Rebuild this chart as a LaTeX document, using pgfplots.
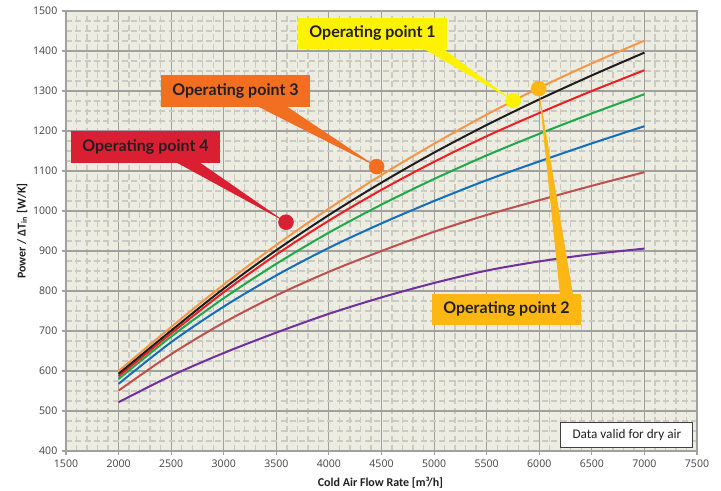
\documentclass[border=0pt]{standalone}
\usepackage{pgfplots}
\pgfplotsset{compat=1.18}
\usepackage{fontspec}
\setmainfont{Carlito}
\newfontfamily\tickfont{Open Sans}
\newfontfamily\callfont{Lato}
\usetikzlibrary{calc}
\definecolor{bgc}{RGB}{236,236,225}
\definecolor{majg}{RGB}{160,160,160}
\definecolor{ming}{RGB}{202,202,197}
\definecolor{cOrange}{RGB}{247,150,70}
\definecolor{cBlack}{RGB}{30,30,30}
\definecolor{cRed}{RGB}{240,30,35}
\definecolor{cGreen}{RGB}{30,170,75}
\definecolor{cBlue}{RGB}{20,110,190}
\definecolor{cBrown}{RGB}{192,80,77}
\definecolor{cPurple}{RGB}{112,48,160}
\definecolor{op1}{RGB}{255,242,0}
\definecolor{op2}{RGB}{253,183,21}
\definecolor{op3}{RGB}{242,110,33}
\definecolor{op4}{RGB}{218,31,50}
\definecolor{txt}{RGB}{35,31,32}
\definecolor{tickc}{RGB}{64,64,64}
\begin{document}
\begin{tikzpicture}
\begin{axis}[
  scale only axis,
  width=473.25pt, height=330pt,
  xmin=1500, xmax=7500, ymin=400, ymax=1500,
  xtick={1500,2000,...,7500},
  ytick={400,500,...,1500},
  minor x tick num=4,
  minor y tick num=3,
  grid=both,
  major grid style={draw=majg, line width=0.8pt},
  minor grid style={draw=ming, line width=1pt, dash pattern=on 4.5pt off 2.5pt},
  axis line style={draw=majg, line width=0.8pt},
  axis background/.style={fill=bgc},
  tick align=outside,
  xtick pos=bottom, ytick pos=left,
  major tick length=3pt,
  minor tick length=0pt,
  tick style={draw=majg, line width=0.8pt},
  /pgf/number format/assume math mode=true,
  /pgf/number format/set thousands separator={},
  ticklabel style={font=\tickfont\fontsize{7.9}{9}\selectfont, text=tickc},
  xlabel={Cold Air Flow Rate [m³/h]},
  ylabel={Power / ΔT\textsubscript{in} [W/K]},
  label style={font=\bfseries\fontsize{9}{11}\selectfont, text=txt},
  xlabel style={at={(axis description cs:0.4984,-0.0727)}, anchor=center},
  ylabel style={at={(axis description cs:-0.0697,0.5)}, anchor=center},
  clip=false,
]
\addplot[smooth, line width=1.5pt, color=cPurple] coordinates {(2000,522) (2500,588) (3000,645) (3500,696) (4000,743) (4500,784) (5000,820) (5500,851) (6000,874) (6500,892) (7000,906)};
\addplot[smooth, line width=1.5pt, color=cBrown] coordinates {(2000,551) (2500,642) (3000,721) (3500,789) (4000,848) (4500,900) (5000,948) (5500,990) (6000,1027) (6500,1063) (7000,1097)};
\addplot[smooth, line width=1.5pt, color=cBlue] coordinates {(2000,568) (2500,672) (3000,761) (3500,839) (4000,908) (4500,969) (5000,1025) (5500,1077) (6000,1124) (6500,1169) (7000,1212)};
\addplot[smooth, line width=1.5pt, color=cGreen] coordinates {(2000,580) (2500,686) (3000,782) (3500,868) (4000,946) (4500,1016) (5000,1080) (5500,1139) (6000,1193) (6500,1244) (7000,1292)};
\addplot[smooth, line width=1.5pt, color=cRed] coordinates {(2000,587) (2500,694) (3000,797) (3500,891) (4000,976) (4500,1053) (5000,1123) (5500,1187) (6000,1245) (6500,1300) (7000,1352)};
\addplot[smooth, line width=1.5pt, color=cOrange] coordinates {(2000,600) (2500,710) (3000,816) (3500,915) (4000,1006) (4500,1090) (5000,1168) (5500,1241) (6000,1308) (6500,1369) (7000,1426)};
\addplot[smooth, line width=1.5pt, color=cBlack] coordinates {(2000,593) (2500,701) (3000,806) (3500,902) (4000,990) (4500,1071) (5000,1146) (5500,1215) (6000,1279) (6500,1339) (7000,1396)};
% callout wedges
\addplot[fill=op1, draw=none, forget plot] coordinates {(4895,1406) (5085,1406) (5753,1276)} -- cycle;
\addplot[fill=op3, draw=none, forget plot] coordinates {(3326,1261) (3601,1261) (4454,1111)} -- cycle;
\addplot[fill=op4, draw=none, forget plot] coordinates {(2552,1121) (2774,1121) (3592,972)} -- cycle;
\addplot[fill=op2, draw=none, forget plot] coordinates {(6197,791) (6321,791) (5994,1306)} -- cycle;
% operating points
\addplot[only marks, mark=*, mark size=5.6pt, color=op1] coordinates {(5753,1276)};
\addplot[only marks, mark=*, mark size=5.6pt, color=op2] coordinates {(5994,1306)};
\addplot[only marks, mark=*, mark size=5.6pt, color=op3] coordinates {(4454,1111)};
\addplot[only marks, mark=*, mark size=5.6pt, color=op4] coordinates {(3592,972)};
% callout boxes
\tikzset{callbox/.style={inner sep=0pt, minimum width=111.75pt, minimum height=23.5pt, font=\callfont\bfseries\fontsize{12}{14}\selectfont, text=txt}}
\node[callbox, fill=op1] at (axis cs:4415,1444) {Operating point 1};
\node[callbox, fill=op3] at (axis cs:3111,1300) {Operating point 3};
\node[callbox, fill=op4] at (axis cs:2256,1160) {Operating point 4};
\node[callbox, fill=op2] at (axis cs:5688,754) {Operating point 2};
\node[draw=tickc, fill=white, line width=0.8pt, inner sep=0pt, minimum width=99pt, minimum height=18.75pt, font=\fontsize{9.9}{12}\selectfont, text=txt] at (axis cs:6834,439) {Data valid for dry air};
\coordinate (bl) at (rel axis cs:0,0);
\coordinate (tr) at (rel axis cs:1,1);
\end{axis}
\pgfresetboundingbox
\path ($(bl)+(-49.5pt,-29.25pt)$) rectangle ($(tr)+(18pt,8.25pt)$);
\end{tikzpicture}
\end{document}
